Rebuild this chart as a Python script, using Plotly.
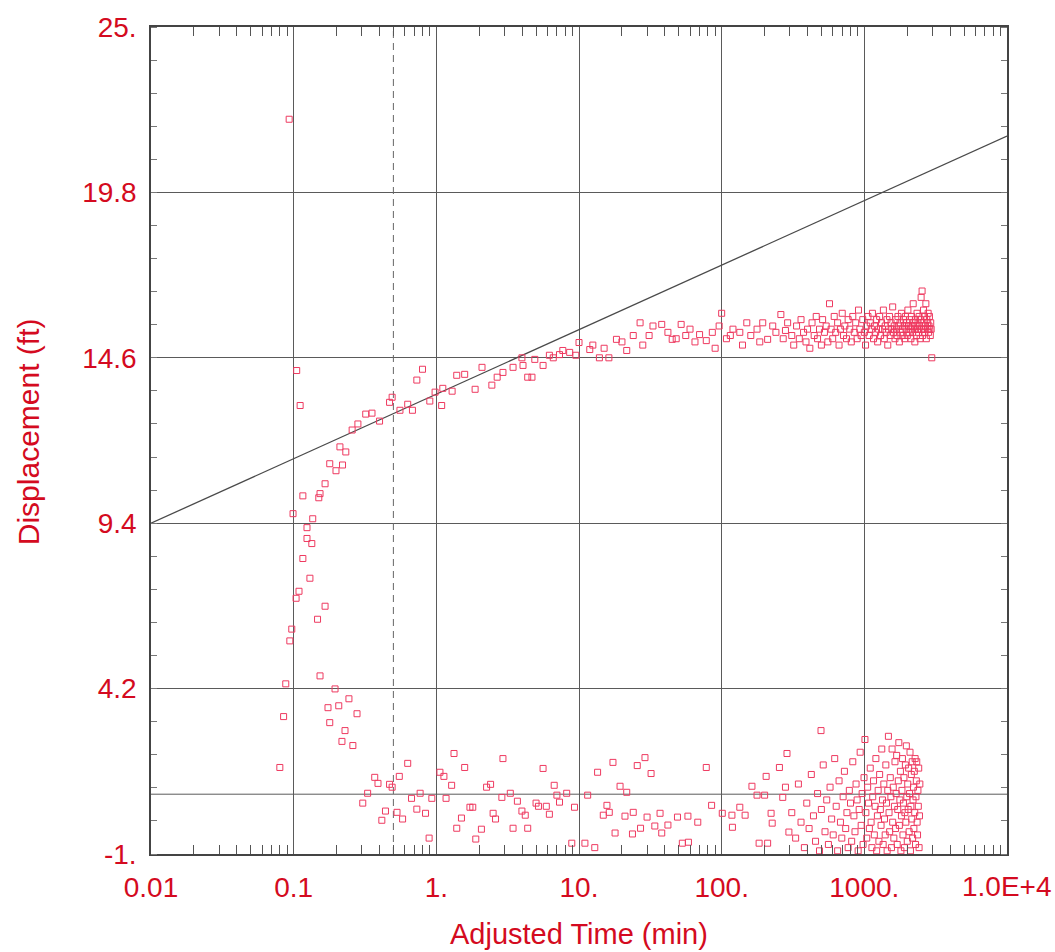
import plotly.graph_objects as go

# ---------------- data ----------------
# early-time rising branch (x: min, y: ft)
early_x = [0.093, 0.105, 0.111, 0.080, 0.085, 0.088, 0.094, 0.097, 0.104, 0.109, 0.116, 0.124, 0.134,
           0.124, 0.130, 0.136, 0.099, 0.116, 0.153, 0.150, 0.166, 0.179, 0.198, 0.220, 0.211, 0.232,
           0.147, 0.166, 0.153, 0.195, 0.174, 0.207, 0.244, 0.278, 0.179, 0.229, 0.218, 0.260]
early_y = [22.1, 14.2, 13.1, 1.72, 3.32, 4.35, 5.7, 6.07, 7.04, 7.26, 8.29, 8.92, 8.76,
           9.26, 7.67, 9.54, 9.7, 10.26, 10.33, 10.2, 10.64, 11.27, 11.05, 11.23, 11.8, 11.64,
           6.38, 6.79, 4.6, 4.19, 3.6, 3.66, 3.88, 3.41, 3.13, 2.88, 2.54, 2.41]

# points following the straight line
mid_x = [0.257, 0.282, 0.32, 0.354, 0.40, 0.47, 0.49, 0.556, 0.63, 0.68, 0.73, 0.80, 0.90, 0.98,
         1.11, 1.09, 1.29, 1.39, 1.58, 1.87, 2.09, 2.45, 2.67, 2.93, 3.45, 3.98, 4.05, 4.37, 4.68,
         4.9, 5.6, 6.2, 6.6, 7.3, 7.7, 8.6, 9.5]
mid_y = [12.33, 12.52, 12.83, 12.86, 12.61, 13.2, 13.36, 12.95, 13.14, 12.95, 13.9, 14.24, 13.24, 13.52,
         13.64, 13.1, 13.55, 14.05, 14.08, 13.61, 14.3, 13.74, 13.99, 14.14, 14.3, 14.6, 14.36, 13.99, 13.99,
         14.55, 14.36, 14.68, 14.6, 14.7, 14.83, 14.77, 14.68]

# plateau, 10 - 300 min
plat1_x = [10, 11.9, 12.5, 13.9, 15, 16.2, 18.3, 20, 21.6, 24, 26.8, 28, 31, 33, 38, 42, 45, 48, 52, 56,
           60, 65, 70, 78, 86, 90, 96, 100, 108, 115, 120, 134, 140, 150, 160, 177, 185, 194, 210,
           228, 240, 260, 270, 280, 290]
plat1_y = [15.08, 14.86, 15.0, 14.6, 14.9, 14.6, 15.18, 15.1, 14.83, 15.3, 15.7, 15.0, 15.3, 15.6, 15.65,
           15.4, 15.18, 15.2, 15.65, 15.3, 15.5, 15.1, 15.33, 15.14, 15.4, 14.9, 15.6, 16.0, 15.2, 15.3,
           15.5, 15.4, 15.0, 15.7, 15.3, 15.5, 15.1, 15.7, 15.18, 15.6, 15.4, 15.96, 15.2, 15.46, 15.7]

# plateau, 300 - 3000 min (dense)
plat2_x = [310, 320, 335, 350, 360, 375, 390, 400, 415, 430, 445, 460, 470, 485, 500, 510, 525, 540, 555,
           570, 585, 600, 615, 630, 650, 665, 680, 700, 715, 730, 750, 770, 790, 810, 830, 850, 870,
           890, 910, 930, 950, 975, 1000, 1020, 1040, 1060, 1080, 1100, 1120, 1140, 1160, 1180, 1200,
           1220, 1240, 1260, 1280, 1300, 1320, 1340, 1360, 1380, 1400, 1420, 1440, 1460, 1480, 1500,
           1520, 1540, 1560, 1580, 1600, 1620, 1640, 1660, 1680, 1700, 1720, 1740, 1760, 1780, 1800,
           1820, 1840, 1860, 1880, 1900, 1920, 1940, 1960, 1980, 2000, 2020, 2040, 2060, 2080, 2100,
           2120, 2140, 2160, 2180, 2200, 2220, 2240, 2260, 2280, 2300, 2320, 2340, 2360, 2380, 2400,
           2420, 2440, 2460, 2480, 2500, 2520, 2540, 2560, 2580, 2600, 2620, 2640, 2660, 2680, 2700,
           2720, 2740, 2760, 2780, 2800, 2820, 2840, 2860, 2880, 2900, 2920, 2940, 2970]
plat2_y = [15.3, 15.0, 15.6, 15.2, 15.8, 15.4, 15.1, 15.5, 14.9, 15.7, 15.3, 15.9, 15.2, 15.5, 15.0, 15.8,
           15.4, 15.6, 15.1, 16.3, 15.5, 15.2, 15.9, 15.4, 15.7, 15.0, 15.5, 16.0, 15.3, 15.6, 15.2, 15.8,
           15.5, 15.1, 15.9, 15.4, 15.7, 15.2, 16.1, 15.5, 15.3, 15.8, 15.4, 15.0, 15.6, 15.9, 15.3, 15.7,
           15.5, 16.0, 15.2, 15.6, 15.4, 15.8, 15.1, 15.5, 15.9, 15.3, 15.7, 15.5, 16.1, 15.2, 15.6, 15.4,
           15.8, 15.0, 15.5, 15.9, 15.3, 15.7, 15.5, 16.2, 15.4, 15.6, 15.2, 15.8, 15.5, 15.3, 15.9, 15.6,
           15.1, 15.7, 15.4, 16.0, 15.5, 15.3, 15.8, 15.6, 15.2, 15.9, 15.5, 15.7, 15.3, 16.1, 15.6, 15.4,
           15.8, 15.5, 15.2, 15.9, 15.6, 15.4, 16.3, 15.7, 15.5, 15.1, 15.8, 15.6, 15.3, 16.0, 15.5, 15.7,
           15.4, 15.9, 15.6, 15.2, 15.8, 16.5, 15.5, 16.7, 15.3, 15.7, 16.1, 15.5, 15.9, 15.4, 15.6, 16.3,
           15.2, 15.8, 15.5, 15.7, 16.0, 15.4, 15.6, 15.9, 15.5, 15.3, 15.7, 15.5, 14.6]

# low branch, 0.3 - 300 min (sparse)
low1_x = [0.37, 0.39, 0.47, 0.49, 0.55, 0.63, 0.33, 0.305, 0.44, 0.53, 0.415, 0.58, 0.67, 0.77, 0.73,
          0.84, 0.89, 0.93, 1.06, 1.13, 1.17, 1.28, 1.33, 1.58, 1.5, 1.39, 1.72, 1.8, 2.07, 1.89, 2.25,
          2.4, 2.5, 2.6, 2.93, 2.88, 3.3, 3.45, 3.7, 3.98, 4.2, 4.37, 5.0, 5.2, 5.6, 5.9, 6.2, 6.7, 7.0,
          7.3, 8.2, 9.3, 8.9, 11.0, 12.9, 11.5, 13.5, 14.8, 15.7, 16.3, 17.3, 17.9, 19.4, 21, 21.6, 23.7,
          24, 25.6, 29, 27, 32, 30, 34, 37, 38, 42, 49, 58, 53, 58.5, 68, 78, 85, 101, 118, 134, 146, 163,
          177, 200, 119, 183, 210, 205, 222, 226, 254, 268, 287, 280, 296]
low1_y = [1.41, 1.22, 1.19, 1.1, 1.44, 1.85, 0.91, 0.6, 0.35, 0.31, 0.06, 0.1, 0.75, 0.91, 0.41,
          0.28, -0.5, 0.75, 1.57, 1.44, 0.75, 1.16, 2.16, 1.72, 0.13, -0.19, 0.47, 0.47, -0.22, -0.53, 1.1,
          1.19, 0.28, 0.1, 2.0, 0.78, 0.91, -0.19, 0.66, 0.35, 0.22, -0.19, 0.6, 0.5, 1.69, 0.5, 0.25, 1.16, 0.85,
          0.63, 0.91, 0.47, -0.66, -0.66, -0.8, 0.85, 1.57, 0.22, 0.53, 0.31, 1.88, -0.34, 1.13, 0.19, 0.94, -0.37,
          0.31, 1.78, 2.03, -0.19, 1.53, 0.16, -0.12, 0.28, -0.34, -0.09, 0.16, 0.19, -0.66, -0.63, 0.0, 1.72, 0.53, 0.28, 0.22, 0.47, 0.22, 1.13,
          0.85, 0.85, -0.16, -0.66, -0.66, 1.44, 0.28, -0.03, 1.72, 0.78, 2.16, 1.1, -0.31]

# low branch, 300 - 2500 min (dense)
low2_x = [310, 330, 345, 360, 380, 395, 410, 425, 440, 455, 470, 485, 497, 500, 515, 530, 545, 560, 575,
          590, 605, 620, 635, 650, 665, 680, 695, 710, 725, 740, 755, 770, 785, 800, 815, 830, 845, 860,
          875, 890, 905, 920, 935, 950, 965, 980, 995, 1010, 1025, 1040, 1055, 1070, 1085, 1100, 1115,
          1130, 1145, 1160, 1175, 1190, 1205, 1220, 1235, 1250, 1265, 1280, 1295, 1310, 1325, 1340, 1355,
          1370, 1385, 1400, 1415, 1430, 1445, 1460, 1475, 1490, 1505, 1520, 1535, 1550, 1565, 1580, 1595,
          1610, 1625, 1640, 1655, 1670, 1685, 1700, 1715, 1730, 1745, 1760, 1775, 1790, 1805, 1820, 1835,
          1850, 1865, 1880, 1895, 1910, 1925, 1940, 1955, 1970, 1985, 2000, 2015, 2030, 2045, 2060, 2075,
          2090, 2105, 2120, 2135, 2150, 2165, 2180, 2195, 2210, 2225, 2240, 2255, 2270, 2285, 2300, 2315,
          2330, 2345, 2360, 2375, 2390, 2405, 2420, 2435, 2450]
low2_y = [0.3, -0.5, 1.2, 0.0, -0.8, 0.6, -0.2, 1.5, 0.2, -0.6, 0.9, -0.9, 2.88, 0.4, 1.8, -0.3, 0.7, -0.7, 1.1,
          0.1, -0.4, 2.0, 0.5, -0.9, 1.3, 0.0, -0.5, 0.8, 1.6, -0.2, 0.3, -0.8, 1.0, 0.6, -0.6, 1.9, 0.2, -0.3,
          1.2, 0.7, -0.9, 0.4, 2.2, -0.1, 0.9, -0.7, 1.4, 2.6, 0.3, -0.5, 1.1, 0.6, -0.2, 1.7, 0.0,
          -0.8, 0.8, 1.3, -0.4, 0.5, 2.0, -0.9, 0.2, 1.0, -0.6, 1.5, 0.4, -0.1, 2.3, 0.7, -0.7,
          1.2, 0.1, -0.4, 1.8, 0.6, -0.9, 1.0, 2.7, 0.3, -0.3, 1.4, 0.8, -0.8, 2.3, 0.0, 1.1,
          -0.5, 0.5, 1.9, -0.2, 0.9, 2.1, -0.7, 0.4, 1.3, 2.5, -0.1, 0.7, 1.6, -0.9, 0.2, 1.0,
          2.0, -0.4, 0.6, 1.4, -0.8, 0.3, 1.8, 0.0, 2.4, 0.8, -0.6, 1.2, 0.4, 1.7, -0.3, 0.9,
          2.2, -0.9, 0.5, 1.5, 0.1, 1.9, -0.5, 0.7, 1.1, -0.2, 1.6, 0.3, 2.0, -0.7, 0.8, 1.3,
          1.9, 0.0, -0.4, 1.0, 0.5, 1.7, -0.8, 0.2, 1.2]

# straight-line fit (end points), static level, dashed time marker
fit_x = [0.01, 10000]
fit_y = [9.4, 21.57]
static_level = 0.88
marker_time = 0.5

x_range = [0.01, 10000]
y_range = [-1, 25]
x_tickvals = [0.01, 0.1, 1, 10, 100, 1000, 10000]
x_ticktext = ["0.01", "0.1", "1.", "10.", "100.", "1000.", ""]
last_x_label = "1.0E+4"
y_tickvals = [-1, 4.2, 9.4, 14.6, 19.8, 25]
y_ticktext = ["-1.", "4.2", "9.4", "14.6", "19.8", "25."]
x_minor = [m * 10 ** k for k in range(-2, 4) for m in range(2, 10)]

RED = "#d40a20"
PT = "#ee3a60"
GRID = "#5a5a5a"
FONT = "Liberation Sans, Arial, sans-serif"

fig = go.Figure()

# guide lines
fig.add_trace(go.Scatter(x=x_range, y=[static_level, static_level], mode="lines",
                         line=dict(color=GRID, width=1), hoverinfo="skip", showlegend=False))
fig.add_trace(go.Scatter(x=[marker_time, marker_time], y=y_range, mode="lines",
                         line=dict(color="#666666", width=1, dash="7px,5px"), hoverinfo="skip",
                         showlegend=False))
fig.add_trace(go.Scatter(x=fit_x, y=fit_y, mode="lines",
                         line=dict(color="#4a4a4a", width=1.3), showlegend=False))

for xs, ys in [(early_x, early_y), (mid_x, mid_y), (plat1_x, plat1_y), (plat2_x, plat2_y),
               (low1_x, low1_y), (low2_x, low2_y)]:
    fig.add_trace(go.Scatter(x=xs, y=ys, mode="markers", cliponaxis=True,
                             marker=dict(symbol="square-open", size=6, color=PT,
                                         line=dict(width=1, color=PT)),
                             showlegend=False))

fig.update_xaxes(type="log", range=[-2, 4], tickmode="array", tickvals=x_tickvals,
                 ticktext=x_ticktext, showgrid=True, gridcolor=GRID, gridwidth=1,
                 showline=True, linecolor="#444444", linewidth=1.5, mirror="ticks",
                 ticks="", ticklabelstandoff=8,
                 tickfont=dict(family=FONT, size=28, color=RED),
                 minor=dict(tickmode="array", tickvals=x_minor, ticks="inside", ticklen=9,
                            tickcolor="#555555", tickwidth=1, showgrid=False),
                 zeroline=False)
fig.update_yaxes(range=y_range, tickmode="array", tickvals=y_tickvals, ticktext=y_ticktext,
                 showgrid=True, gridcolor=GRID, gridwidth=1,
                 showline=True, linecolor="#444444", linewidth=1.5, mirror="ticks",
                 ticks="", ticklabelstandoff=7,
                 tickfont=dict(family=FONT, size=28, color=RED),
                 minor=dict(tickmode="linear", tick0=-1, dtick=1.04, ticks="inside", ticklen=6,
                            tickcolor="#777777", tickwidth=1, showgrid=False),
                 zeroline=False)

# last x tick label drawn as an annotation at x = 1e4 (log10 = 4)
fig.add_annotation(text=last_x_label, xref="x", yref="paper", x=4, y=0,
                   xanchor="center", yanchor="middle", yshift=-32, showarrow=False,
                   font=dict(family=FONT, size=28, color=RED))
fig.add_annotation(text="Adjusted Time (min)", xref="paper", yref="paper", x=0.5, y=0,
                   xanchor="center", yanchor="middle", yshift=-80, showarrow=False,
                   font=dict(family=FONT, size=29, color=RED))
fig.add_annotation(text="Displacement (ft)", xref="paper", yref="paper", x=0, y=0.51,
                   xanchor="center", yanchor="middle", xshift=-123, textangle=-90,
                   showarrow=False, font=dict(family=FONT, size=30, color=RED))

fig.update_layout(width=1055, height=952, margin=dict(l=151, r=48, t=23, b=98),
                  paper_bgcolor="white", plot_bgcolor="white", showlegend=False)

fig.write_html("out.html", config={"displayModeBar": False},
               post_script="document.documentElement.style.overflow='hidden';"
                           "document.body.style.margin='0';document.body.style.overflow='hidden';")
